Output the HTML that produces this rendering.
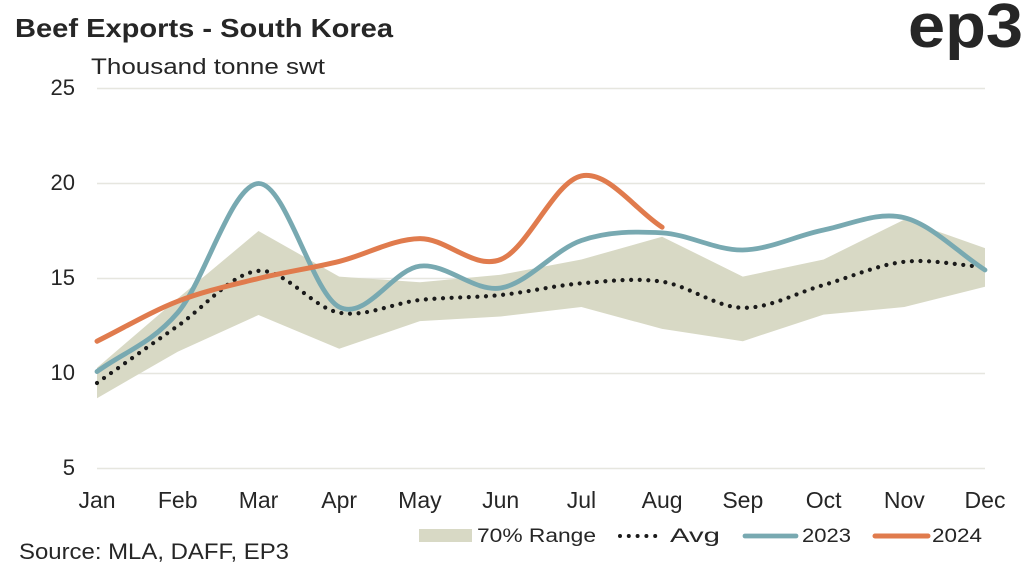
<!DOCTYPE html>
<html><head><meta charset="utf-8"><style>
html,body{margin:0;padding:0;background:#fff;}
svg{display:block;}
text{font-family:"Liberation Sans",sans-serif;fill:#262626;}
</style></head><body>
<svg width="1024" height="568" viewBox="0 0 1024 568" xmlns="http://www.w3.org/2000/svg">
<rect width="1024" height="568" fill="#fff"/>
<text x="15" y="37" font-size="26" font-weight="bold" textLength="378" lengthAdjust="spacingAndGlyphs" fill="#1f1f1f">Beef Exports - South Korea</text>
<text x="908" y="47" font-size="62" font-weight="bold" textLength="115" lengthAdjust="spacingAndGlyphs" fill="#2a2a2a">ep3</text>
<text x="91" y="74" font-size="22" textLength="234" lengthAdjust="spacingAndGlyphs">Thousand tonne swt</text>
<g stroke="#e6e6df" stroke-width="1.5">
<line x1="97" y1="88.5" x2="985" y2="88.5"/>
<line x1="97" y1="183.5" x2="985" y2="183.5"/>
<line x1="97" y1="278.5" x2="985" y2="278.5"/>
<line x1="97" y1="373.5" x2="985" y2="373.5"/>
<line x1="97" y1="468.5" x2="985" y2="468.5"/>
</g>
<g font-size="22" text-anchor="end">
<text x="75" y="95">25</text>
<text x="75" y="190">20</text>
<text x="75" y="285">15</text>
<text x="75" y="380">10</text>
<text x="75" y="475">5</text>
</g>
<g font-size="23" text-anchor="middle">
<text x="97" y="508">Jan</text>
<text x="177.7" y="508">Feb</text>
<text x="258.5" y="508">Mar</text>
<text x="339.2" y="508">Apr</text>
<text x="419.9" y="508">May</text>
<text x="500.7" y="508">Jun</text>
<text x="581.4" y="508">Jul</text>
<text x="662.1" y="508">Aug</text>
<text x="742.8" y="508">Sep</text>
<text x="823.6" y="508">Oct</text>
<text x="904.3" y="508">Nov</text>
<text x="985" y="508">Dec</text>
</g>
<polygon fill="#d8d9c5" points="97,367.8 177.7,298.5 258.5,231 339.2,276.6 419.9,282.3 500.7,274.7 581.4,259.5 662.1,236.7 742.8,276.6 823.6,259.5 904.3,219.6 985,248.1 985,286.7 904.3,307 823.6,314.6 742.8,341.2 662.1,328.9 581.4,307 500.7,316.5 419.9,321.1 339.2,348.8 258.5,315 177.7,351.7 97,398.2"/>
<path fill="none" stroke="#1a1a1a" stroke-width="4.2" stroke-linecap="round" stroke-dasharray="0 8.6" d="M97 383 C123.9 364,150.8 344.68,177.7 326 C204.6 307.32,231.6 273.12,258.5 270.9 C285.4 268.68,312.3 307.85,339.2 312.7 C366.1 317.55,393.0 302.95,419.9 300 C446.8 297.05,473.8 297.78,500.7 295 C527.6 292.22,554.5 285.52,581.4 283.3 C608.3 281.08,635.2 277.62,662.1 281.7 C689.0 285.78,715.9 307.25,742.8 307.8 C769.7 308.35,796.7 292.67,823.6 285 C850.5 277.33,877.4 264.78,904.3 261.8 C931.2 258.82,958.1 265.33,985 267.1"/>
<path fill="none" stroke="#78a9b1" stroke-width="4.8" stroke-linecap="round" stroke-linejoin="round" d="M97 371.6 C123.9 352.0,150.8 344.05,177.7 312.7 C204.6 281.35,231.6 184.45,258.5 183.5 C285.4 182.55,312.3 293.23,339.2 307.0 C366.1 320.77,393.0 269.27,419.9 266.1 C446.8 262.93,473.8 292.27,500.7 288.0 C527.6 283.73,554.5 249.68,581.4 240.5 C608.3 231.32,635.2 231.32,662.1 232.9 C689.0 234.48,715.9 250.48,742.8 250.0 C769.7 249.52,796.7 235.38,823.6 230.0 C850.5 224.62,877.4 211.03,904.3 217.7 C931.2 224.37,958.1 252.57,985 270.0"/>
<path fill="none" stroke="#e07b4d" stroke-width="5" stroke-linecap="round" stroke-linejoin="round" d="M97 341.2 C123.9 327.9,150.8 311.75,177.7 301.3 C204.6 290.85,231.6 285.15,258.5 278.5 C285.4 271.85,312.3 268.05,339.2 261.4 C366.1 254.75,393.0 238.92,419.9 238.6 C446.8 238.28,473.8 269.95,500.7 259.5 C527.6 249.05,554.5 181.28,581.4 175.9 C608.3 170.52,635.2 210.1,662.1 227.2"/>
<rect x="419" y="529" width="53" height="13" fill="#d8d9c5"/>
<text x="477" y="542" font-size="19" textLength="119" lengthAdjust="spacingAndGlyphs">70% Range</text>
<line x1="620" y1="536" x2="664" y2="536" stroke="#1a1a1a" stroke-width="4" stroke-linecap="round" stroke-dasharray="0 8.8"/>
<text x="670" y="542" font-size="19" textLength="50" lengthAdjust="spacingAndGlyphs">Avg</text>
<line x1="745" y1="536" x2="796" y2="536" stroke="#78a9b1" stroke-width="4.8" stroke-linecap="round"/>
<text x="802" y="542" font-size="19" textLength="49" lengthAdjust="spacingAndGlyphs">2023</text>
<line x1="875" y1="536" x2="928" y2="536" stroke="#e07b4d" stroke-width="5" stroke-linecap="round"/>
<text x="932" y="542" font-size="19" textLength="50" lengthAdjust="spacingAndGlyphs">2024</text>
<text x="19" y="559" font-size="22" textLength="270" lengthAdjust="spacingAndGlyphs">Source: MLA, DAFF, EP3</text>
</svg>
</body></html>
